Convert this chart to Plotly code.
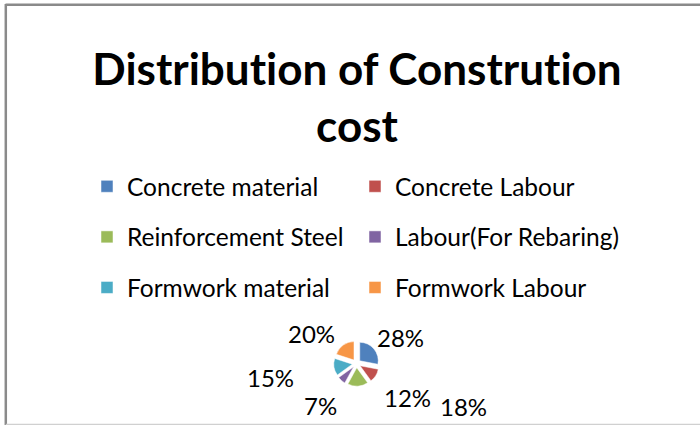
import plotly.graph_objects as go

# ---- data ----
categories = ["Concrete material", "Concrete Labour", "Reinforcement Steel",
              "Labour(For Rebaring)", "Formwork material", "Formwork Labour"]
shares = [28, 12, 18, 7, 15, 20]
title_lines = ["Distribution of Constrution", "cost"]

# ---- style ----
colors = ["#4F81BD", "#C0504D", "#9BBB59", "#8064A2", "#4BACC6", "#F79646"]
FONT = "Lato, Carlito, Calibri, sans-serif"
W, H = 700, 425


def px(x):
    return x / W


def py(y):
    return 1 - y / H


# label positions (pixels) for the percent labels, in slice order
label_px = [(400, 337), (407, 397), (464, 406), (320, 405), (270, 377), (311, 333)]

legend_labels = [
    f'<span style="font-size:24.5px;baseline-shift:5px">{c}</span>' for c in categories
]
title_text = "<br>".join(
    f'<span style="font-variant-ligatures:none">{t}</span>' for t in title_lines
)

cx, cy, half = 356.5, 363.5, 22.75

fig = go.Figure(
    go.Pie(
        labels=legend_labels,
        values=shares,
        sort=False,
        direction="clockwise",
        rotation=0,
        pull=[0.23] * len(shares),
        marker=dict(colors=colors, line=dict(color="white", width=0.5)),
        textinfo="none",
        hoverinfo="label+percent",
        domain=dict(x=[px(cx - half), px(cx + half)],
                    y=[py(cy + half), py(cy - half)]),
    )
)

annotations = []
for (x, y), v in zip(label_px, shares):
    annotations.append(dict(
        x=px(x), y=py(y), xref="paper", yref="paper",
        text=f"{v}%", showarrow=False,
        font=dict(family=FONT, size=24, color="#000000"),
        xanchor="center", yanchor="middle",
    ))

shapes = [
    dict(type="line", xref="paper", yref="paper",
         x0=px(5.5), x1=1.0, y0=py(4.8), y1=py(4.8),
         line=dict(color="#8a8a8a", width=2.5)),
    dict(type="line", xref="paper", yref="paper",
         x0=px(5.8), x1=px(5.8), y0=py(4), y1=0,
         line=dict(color="#8a8a8a", width=2.5)),
    dict(type="line", xref="paper", yref="paper",
         x0=px(5.8), x1=1.0, y0=py(424.5), y1=py(424.5),
         line=dict(color="#d0d0d0", width=1.5)),
]

fig.update_layout(
    width=W, height=H,
    margin=dict(l=0, r=0, t=0, b=0),
    paper_bgcolor="white",
    plot_bgcolor="white",
    title=dict(
        text=title_text,
        x=0.51, xanchor="center",
        y=py(85), yanchor="top",
        font=dict(family=FONT, size=44, color="#000000", weight="bold"),
    ),
    showlegend=True,
    legend=dict(
        orientation="h",
        x=px(87), xanchor="left",
        y=py(156), yanchor="top",
        entrywidth=223,
        font=dict(family=FONT, size=36.6, color="#000000"),
        bgcolor="rgba(0,0,0,0)",
    ),
    annotations=annotations,
    shapes=shapes,
)

fig.write_html(
    "out.html",
    config={"displayModeBar": False},
    post_script="document.body.style.margin='0';document.body.style.overflow='hidden';",
)
